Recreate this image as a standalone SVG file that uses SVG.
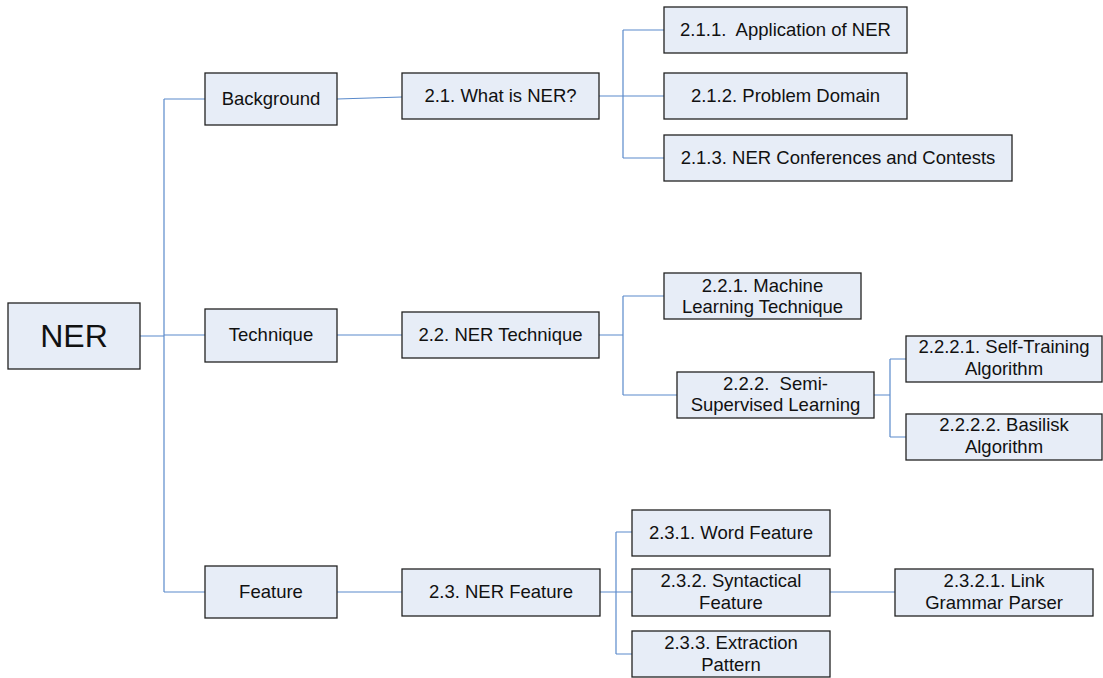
<svg xmlns="http://www.w3.org/2000/svg" width="1103" height="678" viewBox="0 0 1103 678">
  <style>
    .box { fill: #E7EDF7; stroke: #222; stroke-width: 1.3; }
    .lbl { font-family: "Liberation Sans", Arial, sans-serif; font-size: 18.5px; fill: #111; text-anchor: middle; }
    .big { font-size: 32px; }
    .wire { fill: none; stroke: #5A8ACB; stroke-width: 1.2; }
  </style>
  <rect width="1103" height="678" fill="#fff"/>

  <!-- connectors -->
  <g id="connectors">
    <!-- root trunk -->
    <path class="wire" d="M140 336 H164 M164 99 V592 M164 99 H205 M164 335 H205 M164 592 H205"/>
    <!-- level 1 to level 2 -->
    <path class="wire" d="M337 99 L402 97 M337 335 H402 M337 592 H402"/>
    <!-- 2.1 children -->
    <path class="wire" d="M599 96 H664 M623 30 V158 M623 30 H664 M623 158 H664"/>
    <!-- 2.2 children -->
    <path class="wire" d="M599 335 H623 M623 296 V395 M623 296 H664 M623 395 H677"/>
    <!-- 2.2.2 children -->
    <path class="wire" d="M874 395 H890 M890 359 V437 M890 359 H906 M890 437 H906"/>
    <!-- 2.3 children -->
    <path class="wire" d="M600 592 H632 M616 532 V654 M616 532 H632 M616 654 H632"/>
    <!-- 2.3.2 child -->
    <path class="wire" d="M830 592 H895"/>
  </g>

  <g id="ner">
    <rect class="box" x="8" y="303" width="132" height="66"/>
    <text class="lbl big" x="74" y="347">NER</text>
  </g>

  <g id="background">
    <rect class="box" x="205" y="73" width="132" height="52"/>
    <text class="lbl" x="271" y="105">Background</text>
  </g>
  <g id="technique">
    <rect class="box" x="205" y="309" width="132" height="53"/>
    <text class="lbl" x="271" y="341">Technique</text>
  </g>
  <g id="feature">
    <rect class="box" x="205" y="566" width="132" height="52"/>
    <text class="lbl" x="271" y="598">Feature</text>
  </g>

  <g id="n2-1">
    <rect class="box" x="402" y="73" width="197" height="46"/>
    <text class="lbl" x="500.5" y="102">2.1. What is NER?</text>
  </g>
  <g id="n2-1-1">
    <rect class="box" x="664" y="7" width="243" height="46"/>
    <text class="lbl" x="785.5" y="36" xml:space="preserve">2.1.1.  Application of NER</text>
  </g>
  <g id="n2-1-2">
    <rect class="box" x="664" y="73" width="243" height="46"/>
    <text class="lbl" x="785.5" y="102">2.1.2. Problem Domain</text>
  </g>
  <g id="n2-1-3">
    <rect class="box" x="664" y="135" width="348" height="46"/>
    <text class="lbl" x="838" y="164">2.1.3. NER Conferences and Contests</text>
  </g>

  <g id="n2-2">
    <rect class="box" x="402" y="312" width="197" height="46"/>
    <text class="lbl" x="500.5" y="341">2.2. NER Technique</text>
  </g>
  <g id="n2-2-1">
    <rect class="box" x="664" y="273" width="197" height="46"/>
    <text class="lbl" x="762.5" y="292">2.2.1. Machine</text>
    <text class="lbl" x="762.5" y="313">Learning Technique</text>
  </g>
  <g id="n2-2-2">
    <rect class="box" x="677" y="372" width="197" height="46"/>
    <text class="lbl" x="775.5" y="390" xml:space="preserve">2.2.2.  Semi-</text>
    <text class="lbl" x="775.5" y="411">Supervised Learning</text>
  </g>
  <g id="n2-2-2-1">
    <rect class="box" x="906" y="336" width="196" height="46"/>
    <text class="lbl" x="1004" y="353">2.2.2.1. Self-Training</text>
    <text class="lbl" x="1004" y="375">Algorithm</text>
  </g>
  <g id="n2-2-2-2">
    <rect class="box" x="906" y="414" width="196" height="46"/>
    <text class="lbl" x="1004" y="431">2.2.2.2. Basilisk</text>
    <text class="lbl" x="1004" y="453">Algorithm</text>
  </g>

  <g id="n2-3">
    <rect class="box" x="402" y="569" width="198" height="47"/>
    <text class="lbl" x="501" y="598">2.3. NER Feature</text>
  </g>
  <g id="n2-3-1">
    <rect class="box" x="632" y="510" width="198" height="46"/>
    <text class="lbl" x="731" y="539">2.3.1. Word Feature</text>
  </g>
  <g id="n2-3-2">
    <rect class="box" x="632" y="569" width="198" height="47"/>
    <text class="lbl" x="731" y="587">2.3.2. Syntactical</text>
    <text class="lbl" x="731" y="609">Feature</text>
  </g>
  <g id="n2-3-3">
    <rect class="box" x="632" y="631" width="198" height="46"/>
    <text class="lbl" x="731" y="649">2.3.3. Extraction</text>
    <text class="lbl" x="731" y="671">Pattern</text>
  </g>
  <g id="n2-3-2-1">
    <rect class="box" x="895" y="569" width="198" height="47"/>
    <text class="lbl" x="994" y="587">2.3.2.1. Link</text>
    <text class="lbl" x="994" y="609">Grammar Parser</text>
  </g>
</svg>
